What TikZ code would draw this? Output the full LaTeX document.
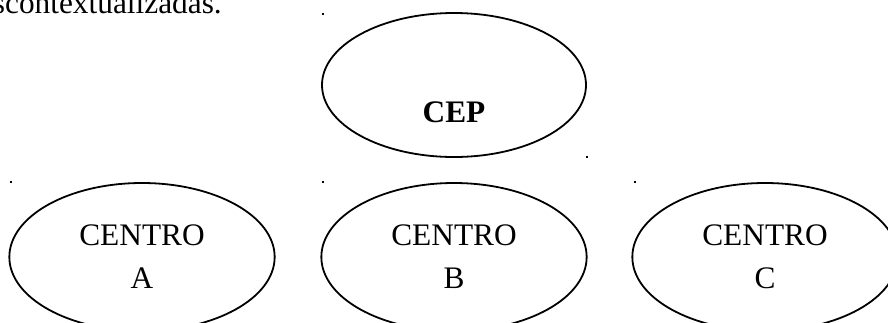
\documentclass[tikz,border=0pt]{standalone}
\usepackage{fontspec}
\setmainfont{Liberation Serif}
\usetikzlibrary{shapes.geometric}
\tikzset{centro/.style={draw,ellipse,line width=1.35pt,inner sep=0pt,align=center,minimum width=199pt,minimum height=111pt,font=\texto},rotulo/.style={font=\texto,inner sep=0pt},ancla/.style={fill,inner sep=0pt,minimum size=1.6pt}}
\newcommand{\texto}{\fontsize{23.5}{32.25}\selectfont}

\begin{document}
\begin{tikzpicture}[x=0.75pt,y=-0.75pt]
\useasboundingbox (0,0) rectangle (888,322);
\clip (0,0) rectangle (888,322);
\node[rotulo,anchor=base east] (frase) at (222,13) {descontextualizadas.};
\node[centro,minimum width=198pt,minimum height=108pt] (cep) at (454,85) {};
\node[rotulo,font=\texto\bfseries] (cepTxt) at (454,112.5) {CEP};
\foreach \l/\x in {A/142,B/454,C/765}{
  \node[centro] (c\l) at (\x,257) {CENTRO\\\l};
}
\foreach \i/\p in {1/{(11,182)},2/{(323,182)},3/{(635,182)},4/{(323,14)},5/{(587,157)}}{
  \node[ancla] (m\i) at \p {};
}
\end{tikzpicture}
\end{document}
